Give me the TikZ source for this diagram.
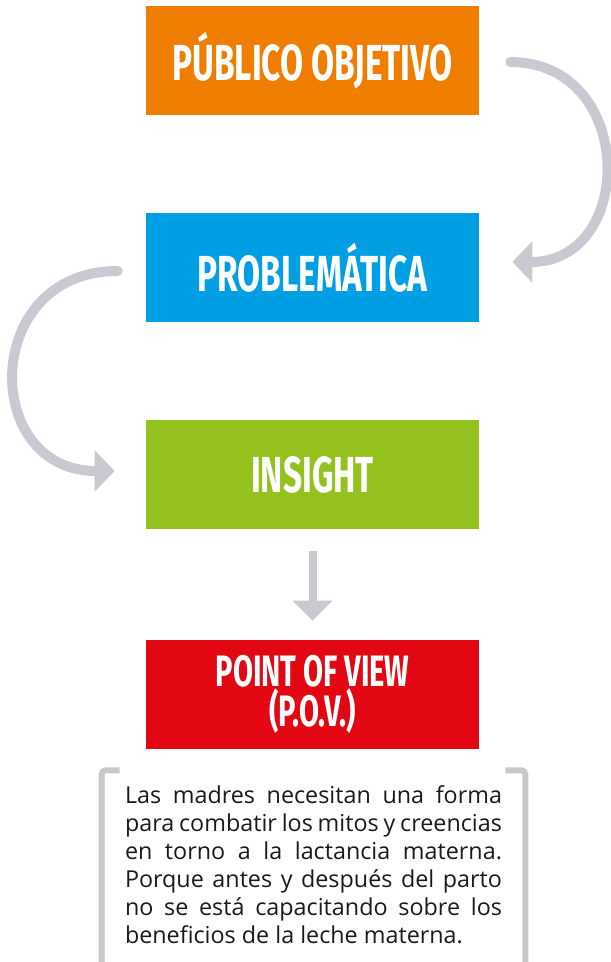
\documentclass[tikz,border=0pt]{standalone}
\usepackage{fontspec}
\setmainfont{Open Sans}
\newfontfamily\titlefont{Fira Sans}[FakeStretch=0.66]
\usetikzlibrary{arrows.meta,positioning,calc}
\definecolor{naranja}{HTML}{EF7D00}
\definecolor{azul}{HTML}{009FE3}
\definecolor{verde}{HTML}{95C11F}
\definecolor{rojo}{HTML}{E30613}
\definecolor{gris}{HTML}{CAC9D2}
\definecolor{grisclaro}{HTML}{C8C8C8}
\definecolor{texto}{HTML}{1A1A1A}

\begin{document}
\begin{tikzpicture}[x=0.75pt, y=-0.75pt, node distance=155.25pt,
    caja/.style={minimum width=249.75pt, minimum height=81.75pt, inner sep=0pt,
        text=white, align=center, font=\titlefont\bfseries\fontsize{38}{30}\selectfont},
    flecha/.style={draw=gris, line width=7.5pt, line cap=round,
        -{Triangle[length=15pt, width=30pt]}},
    flechabaja/.style={draw=gris, line width=6pt,
        -{Triangle[length=15pt, width=29pt]}, shorten <=16.5pt, shorten >=14.25pt}]
    \path[use as bounding box] (0,0) rectangle (610,962);
    \node[caja, fill=naranja] (po) at (312.5,60.5)                   {PÚBLICO OBJETIVO};
    \node[caja, fill=azul]    (pr)  [below of=po]                    {PROBLEMÁTICA};
    \node[caja, fill=verde]   (in)  [below of=pr]                    {INSIGHT};
    \node[caja, fill=rojo, font=\titlefont\bfseries\fontsize{33}{30}\selectfont]
        (pov) [below of=in, node distance=165pt] {POINT OF VIEW\\(P.O.V.)};
    \node[anchor=north west, inner sep=0pt, text width=282.75pt, align=justify,
          text=texto, font=\fontsize{17.5}{21}\selectfont]
          (txt) at ($(pov.south west)+(-21,36)$)
          {Las madres necesitan una forma\linebreak para combatir los mitos y creencias\linebreak en torno a la lactancia materna.\linebreak Porque antes y después del parto\linebreak no se está capacitando sobre los\linebreak beneficios de la leche materna.};

    % flechas
    \draw[flecha] ($(po.east)+(31,1.5)$) .. controls +(126,0) and +(124,0) .. ($(pr.east)+(33,-5.5)$);
    \draw[flecha] ($(pr.west)+(-28,3.5)$) .. controls +(-137,0) and +(-134,0) .. ($(in.west)+(-31,-3.5)$);
    \draw[flechabaja] (in) -- (pov);

    % corchetes
    \draw[grisclaro, line width=4.5pt, rounded corners=3pt]
        ($(txt.north west)+(-5,-15)$) -- ($(txt.north west)+(-23,-15)$) -- ($(txt.north west)+(-23,200)$);
    \draw[grisclaro, line width=4.5pt, rounded corners=3pt]
        ($(txt.north east)+(3,-15)$) -- ($(txt.north east)+(23,-15)$) -- ($(txt.north east)+(23,200)$);
\end{tikzpicture}
\end{document}
